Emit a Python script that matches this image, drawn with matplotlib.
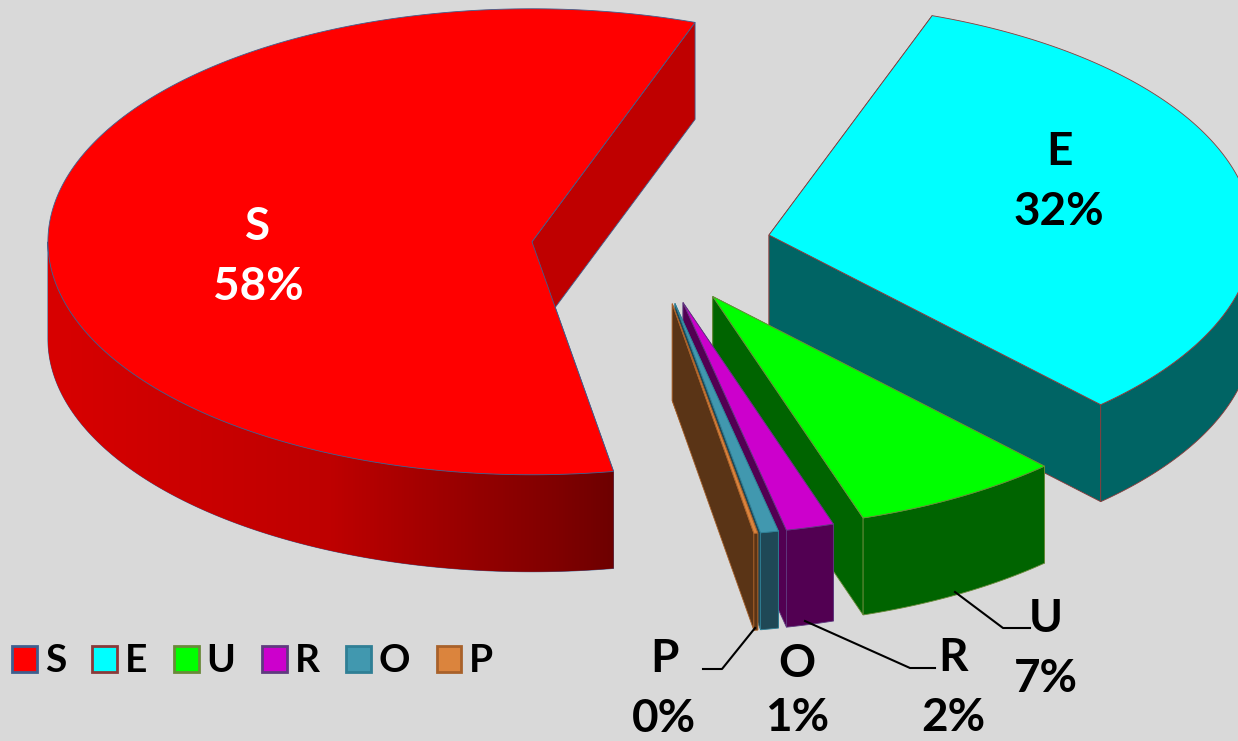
import numpy as np
import matplotlib
matplotlib.use("Agg")
import matplotlib.pyplot as plt
from matplotlib.patches import Patch
from matplotlib.colors import LinearSegmentedColormap

names = ["E", "U", "R", "O", "P", "S"]
# real shares, the labels below are the rounded ones
shares = [32.51, 6.99, 1.6, 0.6, 0.13, 58.17]
pct_labels = ["32%", "7%", "2%", "1%", "0%", "58%"]
legend_order = ["S", "E", "U", "R", "O", "P"]

top_colors = {"S": "#FF0000", "E": "#00FFFF", "U": "#00FF00", "R": "#CC00CC", "O": "#4198AF", "P": "#DB843D"}
side_colors = {"S": "#BF0000", "E": "#006464", "U": "#006400", "R": "#520052", "O": "#1F4856", "P": "#5A3416"}
edge_colors = {"S": "#3F5F8F", "E": "#8A3A3A", "U": "#6A8A3A", "R": "#5F3A7F", "O": "#2F7F95", "P": "#A8612A"}

# pie geometry in pixels
cx, cy = 651.5, 246.8
rx, ry = 484, 233
depth = 97
explode = 0.248
start_angle = 19.7

# gradient on the front of the S slice
s_wall = LinearSegmentedColormap.from_list(
    "s_wall", [(0, "#D80000"), (0.5, "#BE0000"), (0.75, "#960000"), (0.9, "#800000"), (1, "#6E0000")])


def rim(angle, ax0, ay0):
    # clock angle in degrees, 0 at the top
    a = np.radians(angle)
    return ax0 + rx * np.sin(a), ay0 - ry * np.cos(a)


fig = plt.figure(figsize=(12.38, 7.41), dpi=100, facecolor="#D9D9D9")
ax = fig.add_axes([0, 0, 1, 1])
ax.axis("off")

# work out the slices first, S has to be drawn first
slices = {}
a0 = start_angle
for name, share in zip(names, shares):
    a1 = a0 + share * 3.6
    mid = (a0 + a1) / 2
    ax0 = cx + explode * rx * np.sin(np.radians(mid))
    ay0 = cy - explode * ry * np.cos(np.radians(mid))
    slices[name] = (a0, a1, ax0, ay0)
    a0 = a1

for name in legend_order:
    a0, a1, ax0, ay0 = slices[name]
    side = side_colors[name]
    edge = edge_colors[name]

    # the two cut faces
    for ang in (a0, a1):
        x1, y1 = rim(ang, ax0, ay0)
        ax.fill([ax0, x1, x1, ax0], [ay0, y1, y1 + depth, ay0 + depth],
                facecolor=side, edgecolor=edge, linewidth=0.6, zorder=2)

    # outer wall, only the front half can be seen
    w0 = max(a0, 90)
    w1 = min(a1, 270)
    if w1 > w0:
        ang = np.linspace(w0, w1, 240)
        xs, ys = rim(ang, ax0, ay0)
        wall = ax.fill(np.r_[xs, xs[::-1]], np.r_[ys, ys[::-1] + depth],
                       facecolor=side, edgecolor=edge, linewidth=0.6, zorder=2)[0]
        if name == "S":
            im = ax.imshow(np.linspace(0, 1, 400)[None, :], cmap=s_wall, aspect="auto",
                           extent=(xs.min(), xs.max(), ys.max() + depth, ys.min()), zorder=2)
            im.set_clip_path(wall)

    # top face
    ang = np.linspace(a0, a1, 300)
    xs, ys = rim(ang, ax0, ay0)
    ax.fill(np.r_[ax0, xs], np.r_[ay0, ys], facecolor=top_colors[name],
            edgecolor=edge, linewidth=0.6, zorder=2)

ax.set_xlim(0, 1238)
ax.set_ylim(741, 0)

# leader lines
leaders = [
    ([955, 1003, 1030], [592, 628, 628]),
    ([805, 910, 935], [621, 668, 668]),
    ([755, 722, 703], [628, 669, 669]),
]
for lx, ly in leaders:
    ax.plot(lx, ly, color="black", linewidth=1.5, zorder=3)

font = ["Lato", "DejaVu Sans"]
# x centre, baseline of the letter, baseline of the percent
label_pos = {"S": (258, 240, 300, "white"), "E": (1059, 165, 225, "black"), "U": (1046, 632, 692, "black"),
             "R": (953, 671, 731, "black"), "O": (797, 677, 731, "black"), "P": (664, 672, 732, "black")}
for name, pct in zip(names, pct_labels):
    x, y, y2, col = label_pos[name]
    ax.text(x, y, name, ha="center", va="baseline", color=col, fontsize=33,
            fontweight="bold", family=font, zorder=4)
    ax.text(x, y2, pct, ha="center", va="baseline", color=col, fontsize=33,
            fontweight="bold", family=font, zorder=4)

handles = [Patch(facecolor=top_colors[n], edgecolor=edge_colors[n], linewidth=2, label=n) for n in legend_order]
ax.legend(handles=handles, ncol=6, frameon=False, loc="center left", bbox_to_anchor=(12 / 1238, 1 - 661 / 741),
          borderaxespad=0, borderpad=0, prop={"family": font, "weight": "bold", "size": 28},
          handlelength=0.64, handleheight=0.64, handletextpad=0.2, columnspacing=0.68)

fig.savefig("out.png", dpi=100, facecolor=fig.get_facecolor())
